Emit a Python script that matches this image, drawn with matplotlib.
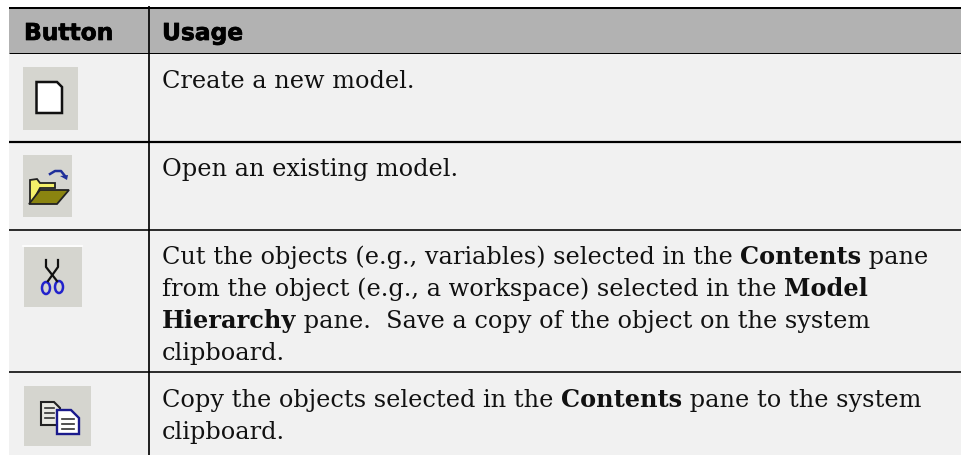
import matplotlib
matplotlib.use('Agg')
import matplotlib.pyplot as plt
import matplotlib.patheffects as pe
from matplotlib.patches import Rectangle, Polygon, Ellipse
from matplotlib.lines import Line2D

W, H = 962, 456
headers = ['Button', 'Usage']
rows = [
    [[('Create a new model.', False)]],
    [[('Open an existing model.', False)]],
    [[('Cut the objects (e.g., variables) selected in the ', False), ('Contents', True), (' pane', False)],
     [('from the object (e.g., a workspace) selected in the ', False), ('Model', True)],
     [('Hierarchy', True), (' pane.  Save a copy of the object on the system', False)],
     [('clipboard.', False)]],
    [[('Copy the objects selected in the ', False), ('Contents', True), (' pane to the system', False)],
     [('clipboard.', False)]],
]
row_lines = [143, 231, 372.7]
first_baseline = [88, 176, 264, 407]
line_step = 32

fig = plt.figure(figsize=(W / 100, H / 100), dpi=100)
ax = fig.add_axes([0, 0, 1, 1])
ax.set_xlim(0, W)
ax.set_ylim(H, 0)
ax.axis('off')
lw = 72 / 100

LEFT, RIGHT, DIV = 9, 962, 149
ax.add_patch(Rectangle((LEFT, 9), RIGHT - LEFT, 45, fc='#b2b2b2', ec='none'))
ax.add_patch(Rectangle((LEFT, 54), RIGHT - LEFT, H - 54, fc='#f1f1f1', ec='none'))
ax.add_line(Line2D([LEFT, RIGHT], [9, 9], color='black', lw=2.0 * lw, solid_capstyle='butt'))
ax.add_line(Line2D([LEFT, RIGHT], [54, 54], color='black', lw=1.0 * lw, solid_capstyle='butt'))
for y, t in zip(row_lines, (2.2, 1.6, 1.6)):
    ax.add_line(Line2D([LEFT, RIGHT], [y, y], color='black', lw=t * lw, solid_capstyle='butt'))
ax.add_line(Line2D([DIV, DIV], [7, H], color='black', lw=1.7 * lw, solid_capstyle='butt'))

for x, label in zip((24, 162), headers):
    ax.text(x, 41, label, fontsize=16.8, fontweight='bold', family='DejaVu Sans', color='black',
            path_effects=[pe.withStroke(linewidth=0.5, foreground='black')])

fig.canvas.draw()
rend = fig.canvas.get_renderer()
FS = 17.28
for row, y0 in zip(rows, first_baseline):
    for i, segs in enumerate(row):
        x = 162
        y = y0 + i * line_step
        for s, b in segs:
            t = ax.text(x, y, s.replace(' ', '\u00a0'), fontsize=FS, family='DejaVu Serif',
                        fontweight='bold' if b else 'normal', color='#111111')
            x += t.get_window_extent(rend).width

# icons
ICON = '#d5d5cf'
ax.add_patch(Rectangle((23, 68), 55, 63, fc=ICON, ec='none'))
ax.add_patch(Polygon([(36.5, 83), (57, 83), (62, 88), (62, 114), (36.5, 114)], fc='white', ec='#111111', lw=1.8))
ax.add_patch(Rectangle((23, 156), 49, 62, fc=ICON, ec='none'))
ax.add_patch(Polygon([(30, 181), (37, 180), (40, 184), (55, 184), (55, 189), (40, 189), (32, 204), (30, 204)], fc='#f4f06a', ec='#222222', lw=1.3))
ax.add_patch(Polygon([(40, 191), (69, 191), (57, 205), (29, 205)], fc='#8a8410', ec='#222222', lw=1.3))
ax.add_line(Line2D([50, 55, 61, 65], [175, 172, 172, 177], color='#1f2f9a', lw=1.8))
ax.add_patch(Polygon([(60, 177), (68, 176), (67, 181)], fc='#1f2f9a', ec='none'))
ax.add_patch(Rectangle((24, 248), 58, 60, fc=ICON, ec='none'))
ax.add_line(Line2D([23, 82], [247, 247], color='white', lw=1.2))
ax.add_line(Line2D([46, 46, 57, 57], [261, 268, 282, 282], color='#111111', lw=1.6))
ax.add_line(Line2D([58, 58, 48, 48], [261, 268, 282, 282], color='#111111', lw=1.6))
ax.add_patch(Ellipse((46, 289), 8, 12, fc='none', ec='#2222cc', lw=1.8))
ax.add_patch(Ellipse((59, 288), 8, 12, fc='none', ec='#2222cc', lw=1.8))
ax.add_patch(Rectangle((24, 387), 67, 60, fc=ICON, ec='none'))
ax.add_patch(Polygon([(41, 403), (54, 403), (60, 409), (60, 426), (41, 426)], fc='#e8e8e2', ec='#222222', lw=1.5))
ax.add_patch(Polygon([(57, 411), (71, 411), (79, 419), (79, 435), (57, 435)], fc='white', ec='#1a1a8c', lw=1.7))
for yy in (420, 425, 430):
    ax.add_line(Line2D([62, 74], [yy, yy], color='#333333', lw=1.2))
for yy in (409, 414, 419):
    ax.add_line(Line2D([45, 54], [yy, yy], color='#333333', lw=1.2))

fig.savefig('out.png', dpi=100)
